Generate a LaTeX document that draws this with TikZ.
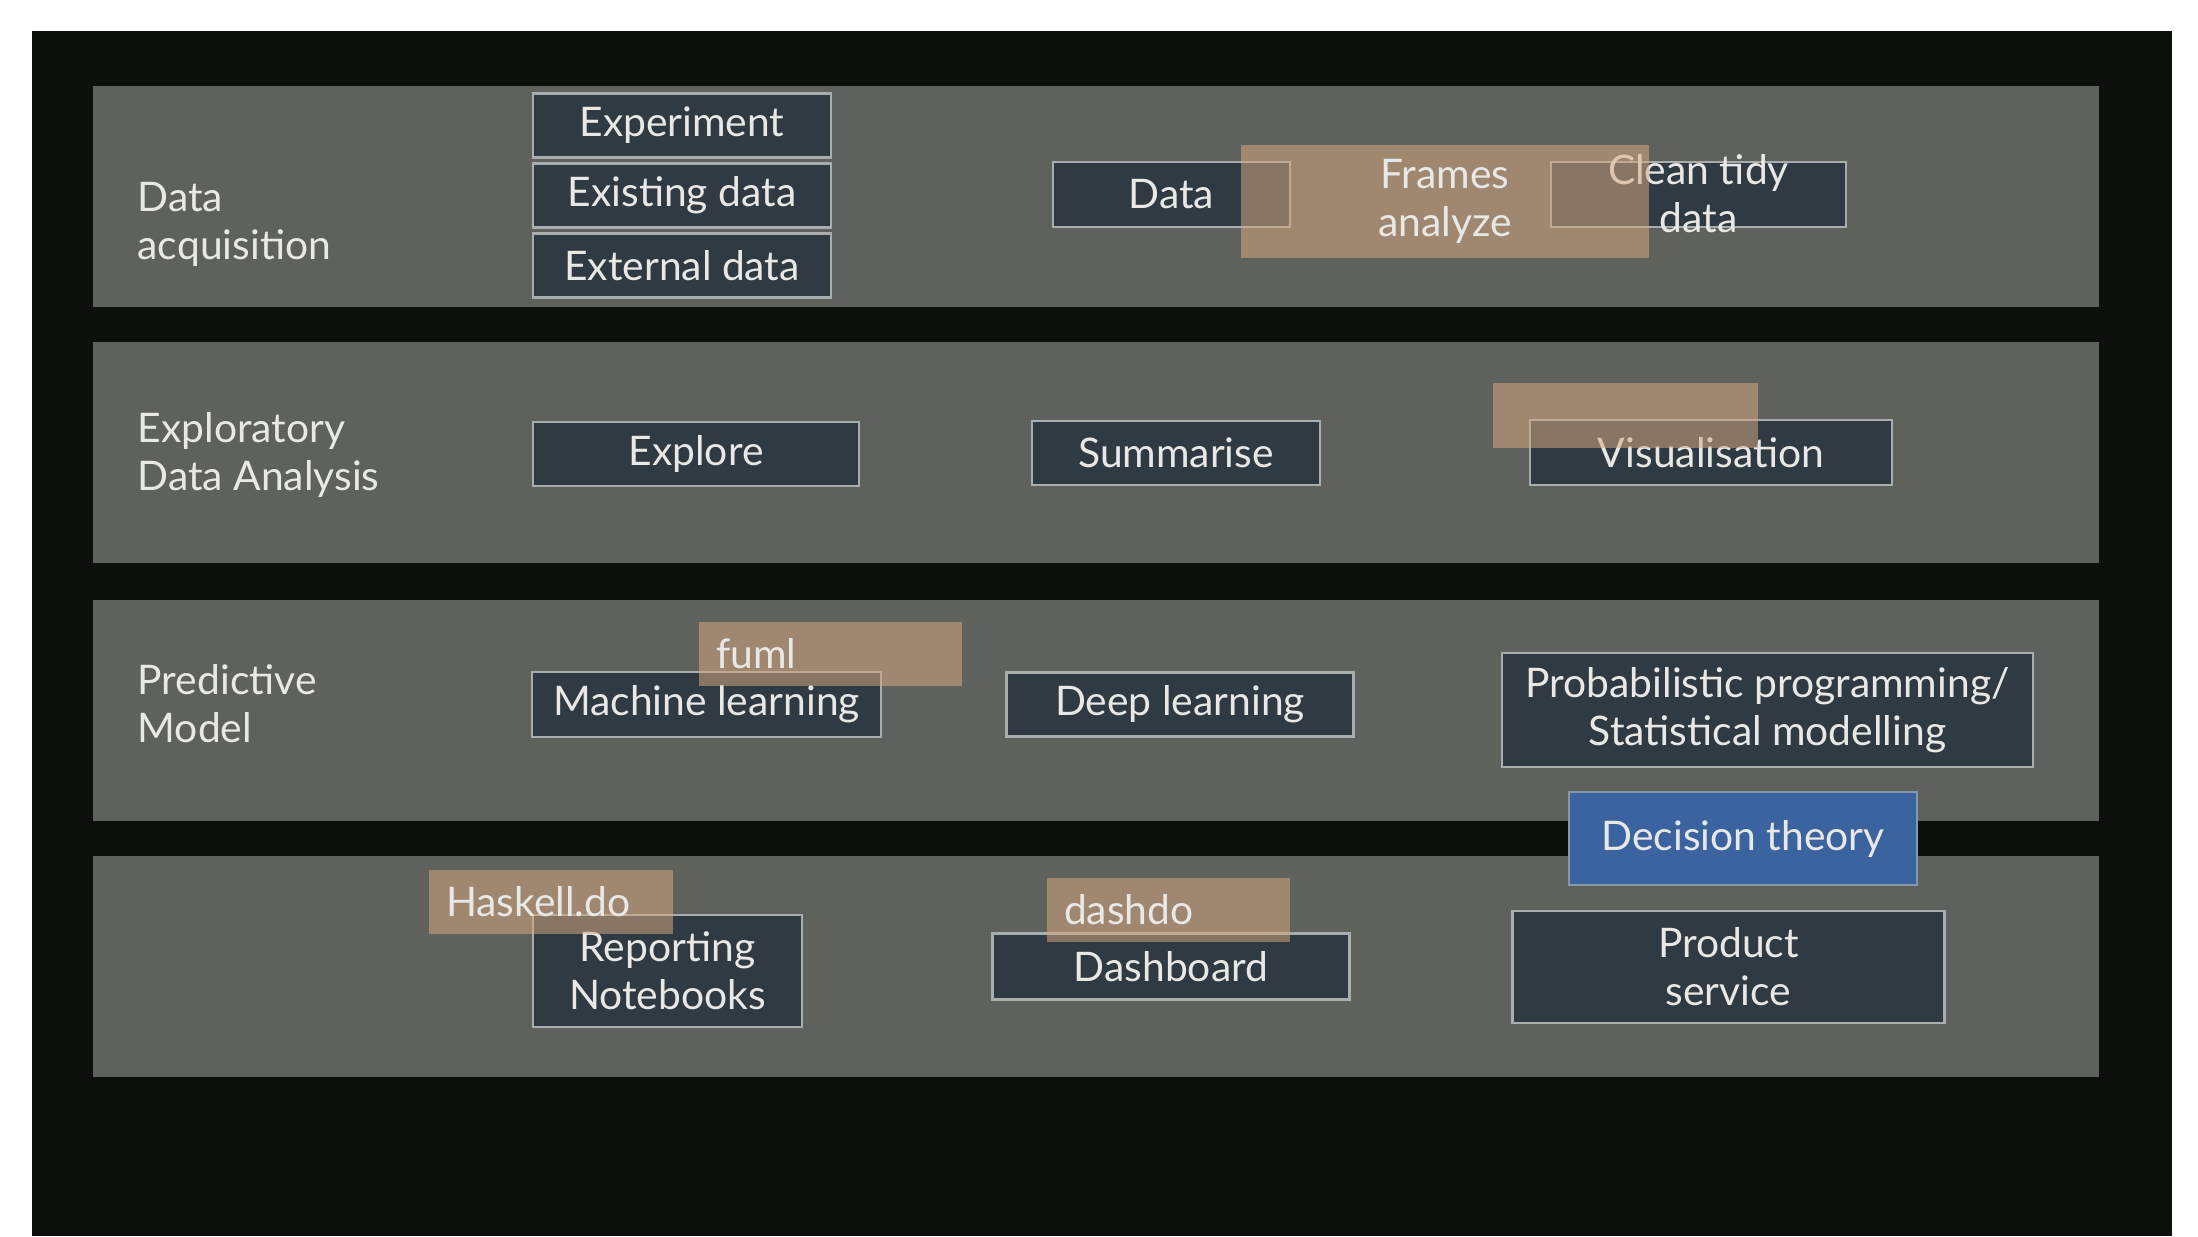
\documentclass[tikz,border=0pt]{standalone}
\usepackage{fontspec}
\setmainfont{Lato}
\usepackage{tikz}
\usetikzlibrary{positioning}

\definecolor{slide}{HTML}{0D0F0C}
\definecolor{bandgray}{HTML}{5F615D}
\definecolor{boxfill}{HTML}{2F3A42}
\definecolor{boxline}{HTML}{A8ADAD}
\definecolor{tan}{HTML}{D7A881}
\definecolor{theoryblue}{HTML}{3B63A0}
\definecolor{ink}{HTML}{E8E8E6}

\tikzstyle{band} = [rectangle, fill=bandgray, minimum width=200.6mm, minimum height=22.1mm, inner sep=0pt]
\tikzstyle{stage} = [text=ink, align=left, anchor=west, inner sep=0pt]
\tikzstyle{tool} = [rectangle, minimum width=29.8mm, minimum height=6.4mm, text centered, align=center, draw=boxline, line width=0.6pt, fill=boxfill, text=ink]
\tikzstyle{lib} = [rectangle, minimum height=6.4mm, inner xsep=1.7mm, align=left, fill=tan, fill opacity=0.54, text opacity=1, text=ink]
\tikzstyle{theory} = [rectangle, minimum width=34.8mm, minimum height=9.3mm, text centered, draw=boxline!70!theoryblue, line width=0.6pt, fill=theoryblue, text=ink]

\begin{document}
\begin{tikzpicture}[x=0.1mm, y=-0.1mm, node distance=7mm, font=\fontsize{11.6}{13.6}\selectfont]

    \useasboundingbox (0,0) rectangle (2198,1236);
    \fill[white] (0,0) rectangle (2198,1236);
    \fill[slide] (32,31) rectangle (2172,1236);

    % bands
    \node (acq) [band] at (1095.5,196.2) {};
    \node (eda) [band] at (1095.5,452.7) {};
    \node (model) [band] at (1095.5,710.7) {};
    \node (deliver) [band] at (1095.5,966.5) {};

    \node (acqlabel) [stage] at (137,224) {Data\\acquisition};
    \node (edalabel) [stage] at (137,455) {Exploratory\\Data Analysis};
    \node (modellabel) [stage] at (137,704) {Predictive\\Model};

    % data acquisition
    \node (experiment) [tool] at (682,125.5) {Experiment};
    \node (existing) [tool, below of=experiment] {Existing data};
    \node (external) [tool, below of=existing] {External data};
    \node (data) [tool, minimum width=23.7mm, minimum height=6.5mm] at (1171.5,194.5) {Data};
    \node (clean) [tool, minimum width=29.5mm, minimum height=6.5mm] at (1698.5,194.5) {};
    \node (cleantext) [text=ink, align=center, inner sep=0pt] at (1698.5,194) {Clean tidy\\data};
    \node (frames) [lib, minimum width=40.8mm, minimum height=11.3mm, align=center] at (1445,201.5) {Frames\\analyze};

    % exploratory data analysis
    \node (explore) [tool, minimum width=32.6mm] at (696,454) {Explore};
    \node (summarise) [tool, minimum width=28.8mm] at (1176,453) {Summarise};
    \node (visual) [tool, minimum width=36.2mm, minimum height=6.5mm] at (1711,452.5) {Visualisation};
    \node (vislib) [lib, minimum width=26.5mm, minimum height=6.5mm] at (1625.5,415.5) {};

    % predictive model
    \node (ml) [tool, minimum width=34.9mm, minimum height=6.5mm] at (706.5,704.5) {Machine learning};
    \node (dl) [tool, minimum width=34.7mm] at (1180,704.5) {Deep learning};
    \node (prob) [tool, minimum width=53.1mm, minimum height=11.4mm] at (1767.5,710) {Probabilistic programming/\\Statistical modelling};
    \node (fuml) [lib, text width=22.9mm] at (830.5,654) {fuml};

    % delivery
    \node (notebooks) [tool, minimum width=26.9mm, minimum height=11.2mm] at (667.5,971) {Reporting\\Notebooks};
    \node (dashboard) [tool, minimum width=35.7mm, minimum height=6.6mm] at (1171,966.5) {Dashboard};
    \node (product) [tool, minimum width=43.2mm, minimum height=11.2mm] at (1728.5,967) {Product\\service};
    \node (haskelldo) [lib, text width=21mm] at (551,902) {Haskell.do};
    \node (dashdo) [lib, text width=20.9mm] at (1168.5,910) {dashdo};
    \node (decision) [theory] at (1743,838.5) {Decision theory};

\end{tikzpicture}
\end{document}
